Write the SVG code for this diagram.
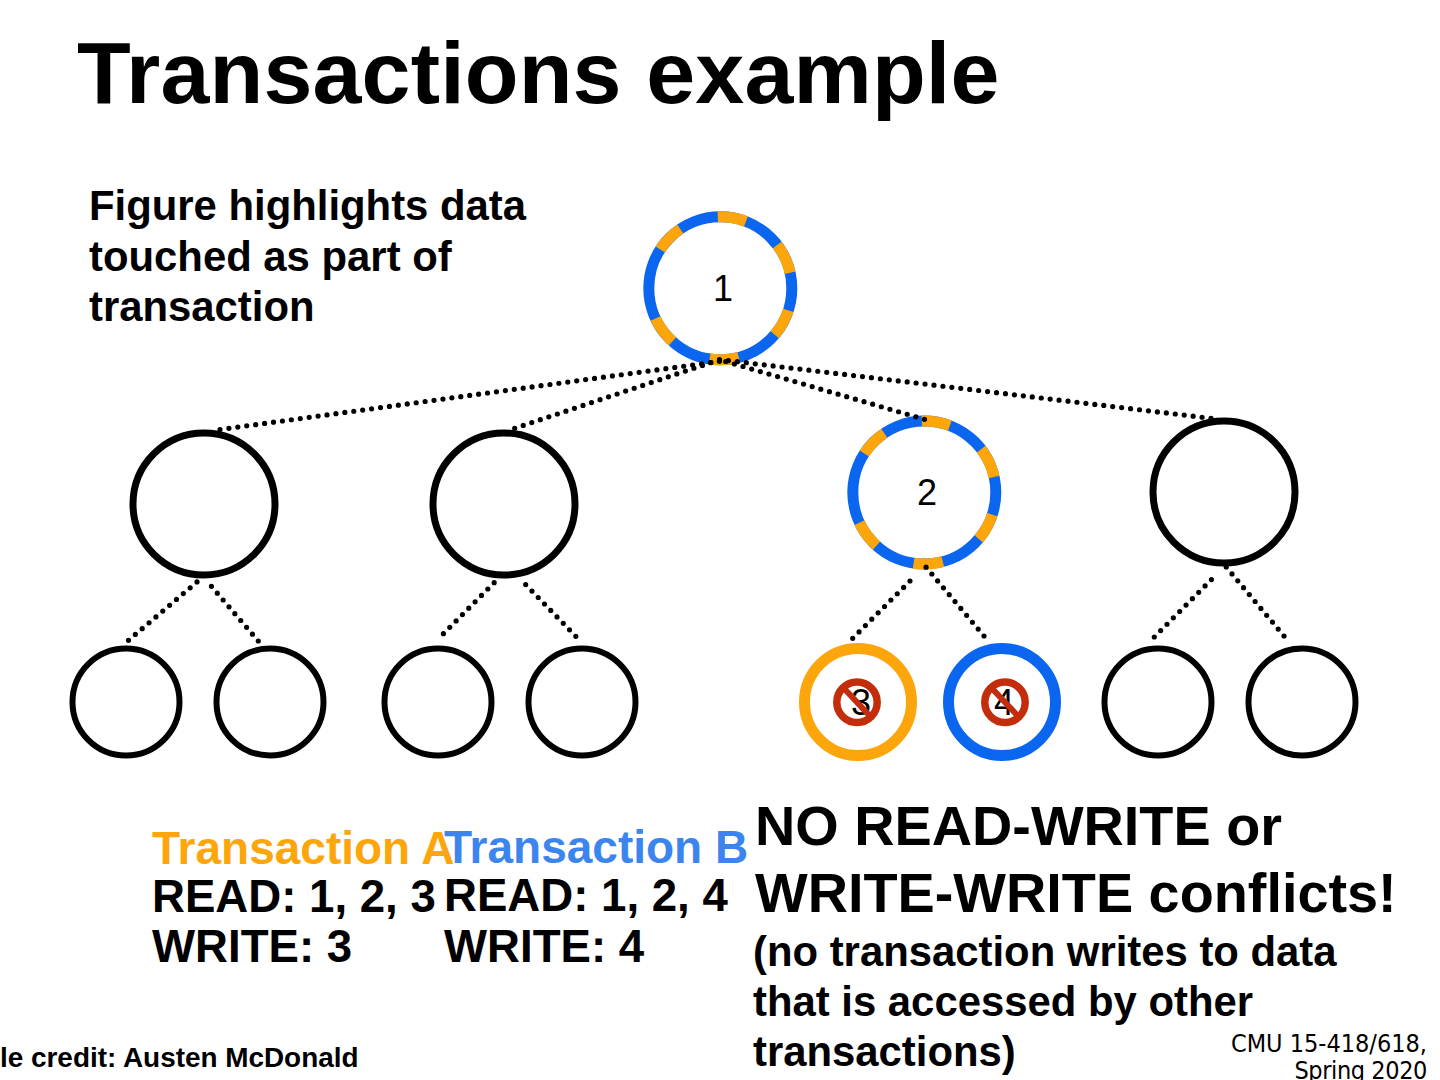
<svg xmlns="http://www.w3.org/2000/svg" width="1440" height="1080" viewBox="0 0 1440 1080">
<style>
.t{font-family:"Liberation Sans",Arial,sans-serif;fill:#000}
.b{font-weight:bold}
.m{font-size:46px;font-weight:bold}
.r{font-size:45.6px;font-weight:bold}
.p{font-size:41.85px}
.h{font-size:55.8px}
.n{font-size:36px}
.c{font-family:"DejaVu Sans",sans-serif;font-stretch:condensed;font-size:25px;text-anchor:end;fill:#000}
.bk{fill:#fff;stroke:#000;stroke-width:7}
.sk{fill:#fff;stroke:#000;stroke-width:6}
.d{fill:none;stroke:#000;stroke-width:5.2;stroke-linecap:round;stroke-dasharray:0 9}
.ring{fill:#fff;stroke:#0a66ee;stroke-width:11}
.arc{fill:none;stroke:#fca60c;stroke-width:11}
.no{fill:none;stroke:#c32d0b;stroke-width:7.5}
.sl{fill:none;stroke:#c32d0b;stroke-width:6}
</style>
<defs>
<g id="stripes">
<circle class="ring" r="71.5"/>
<path class="arc" d="M-2.5,-71.5A71.5,71.5 0 0 1 25.6,-66.8"/>
<path class="arc" d="M56.9,-43.3A71.5,71.5 0 0 1 69.8,-15.5"/>
<path class="arc" d="M68,22.1A71.5,71.5 0 0 1 54.4,46.4"/>
<path class="arc" d="M18.5,69.1A71.5,71.5 0 0 1 -10.7,70.7"/>
<path class="arc" d="M-47.8,53.1A71.5,71.5 0 0 1 -64.8,30.2"/>
<path class="arc" d="M-60,-38.9A71.5,71.5 0 0 1 -40,-59.3"/>
</g>
<g id="forbid">
<circle class="no" r="20.2"/>
<path class="sl" d="M-15,-16L15,16"/>
</g>
</defs>
<rect width="1440" height="1080" fill="#fff"/>
<g id="node-1"><use href="#stripes" x="720.3" y="288.3"/><text class="t n" x="723" y="301" text-anchor="middle">1</text></g>
<g id="node-2"><use href="#stripes" x="924.3" y="492.5"/><text class="t n" x="927" y="505" text-anchor="middle">2</text></g>
<g id="node-l"><circle class="bk" cx="204" cy="504" r="71"/></g>
<g id="node-m"><circle class="bk" cx="504" cy="504" r="71"/></g>
<g id="node-r"><circle class="bk" cx="1224" cy="492" r="71"/></g>
<g id="leaf-a"><circle class="sk" cx="126" cy="702" r="53.5"/></g>
<g id="leaf-b"><circle class="sk" cx="270" cy="702" r="53.5"/></g>
<g id="leaf-c"><circle class="sk" cx="438" cy="702" r="53.5"/></g>
<g id="leaf-d"><circle class="sk" cx="582" cy="702" r="53.5"/></g>
<g id="node-3"><circle cx="858" cy="702" r="53.5" fill="#fff" stroke="#fca60c" stroke-width="11"/><text class="t n" x="861" y="715" text-anchor="middle">3</text><use href="#forbid" x="857" y="702.3"/></g>
<g id="node-4"><circle cx="1002" cy="702" r="53.5" fill="#fff" stroke="#0a66ee" stroke-width="11"/><text class="t n" x="1004" y="715" text-anchor="middle">4</text><use href="#forbid" x="1005" y="702.3"/></g>
<g id="leaf-e"><circle class="sk" cx="1158" cy="702" r="53.5"/></g>
<g id="leaf-f"><circle class="sk" cx="1302" cy="702" r="53.5"/></g>
<g id="connectors">
<path class="d" d="M220,429.5L722,361"/>
<path class="d" d="M514.7,428.3L720,359.5"/>
<path class="d" d="M924.5,419.3L722,360.4"/>
<path class="d" d="M1211,418.3L722,359.8"/>
<path class="d" d="M128.5,640.3L197.3,581.7"/>
<path class="d" d="M258.3,641L206,580"/>
<path class="d" d="M443.4,633.7L494.5,582.3"/>
<path class="d" d="M575.8,636.3L525.4,584.3"/>
<path class="d" d="M852.7,638.3L910.3,580.7"/>
<path class="d" d="M984,636L925.7,566.7"/>
<path class="d" d="M1154.3,637L1211.7,579.3"/>
<path class="d" d="M1284,636L1226,566.7"/>
</g>
<g id="texts">
<text class="t b" x="77" y="103" font-size="88" letter-spacing=".15">Transactions example</text>
<text class="t b p" x="89" y="220">Figure highlights data</text>
<text class="t b p" x="89" y="271">touched as part of</text>
<text class="t b p" x="89" y="321">transaction</text>
<text class="t m" x="152" y="864" style="fill:#fca60c">Transaction A</text>
<text class="t r" x="152" y="912">READ: 1, 2, 3</text>
<text class="t r" x="152" y="962">WRITE: 3</text>
<text class="t m" x="444" y="863" style="fill:#3d85ee">Transaction B</text>
<text class="t r" x="444" y="911">READ: 1, 2, 4</text>
<text class="t r" x="444" y="962">WRITE: 4</text>
<text class="t b h" x="755" y="845">NO READ-WRITE or</text>
<text class="t b h" x="755" y="912">WRITE-WRITE conflicts!</text>
<text class="t b p" x="753" y="966">(no transaction writes to data</text>
<text class="t b p" x="753" y="1016">that is accessed by other</text>
<text class="t b p" x="753" y="1066">transactions)</text>
<text class="t b" x="0" y="1067" font-size="27.9">le credit: Austen McDonald</text>
<text class="c" x="1427" y="1052">CMU 15-418/618,</text>
<text class="c" x="1427" y="1079" letter-spacing="-.4">Spring 2020</text>
</g>
</svg>
